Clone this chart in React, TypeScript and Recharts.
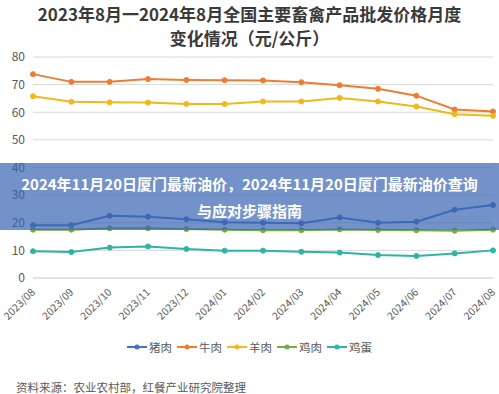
import React from 'react';
import { LineChart, Line, XAxis, YAxis, CartesianGrid } from 'recharts';

const months = [
  '2023/08', '2023/09', '2023/10', '2023/11', '2023/12', '2024/01', '2024/02',
  '2024/03', '2024/04', '2024/05', '2024/06', '2024/07', '2024/08',
];
const pork = [19.1, 19.1, 22.5, 22.2, 21.3, 20.2, 20.0, 19.8, 21.9, 20.0, 20.4, 24.7, 26.4];
const beef = [73.8, 71.0, 71.0, 72.0, 71.7, 71.6, 71.5, 70.9, 69.8, 68.5, 66.0, 61.0, 60.3];
const mutton = [65.8, 63.8, 63.6, 63.5, 63.0, 63.0, 63.9, 63.9, 65.2, 63.9, 62.1, 59.3, 58.7];
const chicken = [17.5, 17.5, 18.0, 18.0, 17.7, 17.5, 17.3, 17.3, 17.6, 17.4, 17.3, 17.1, 17.5];
const egg = [9.7, 9.4, 11.0, 11.4, 10.5, 9.9, 9.9, 9.5, 9.2, 8.3, 8.0, 8.9, 10.0];
const yTicks = [0, 10, 20, 30, 40, 50, 60, 70, 80];

const series = [
  { key: 'pork', name: '猪肉', color: '#4472C4' },
  { key: 'beef', name: '牛肉', color: '#ED7D31' },
  { key: 'mutton', name: '羊肉', color: '#F2B81A' },
  { key: 'chicken', name: '鸡肉', color: '#70AD47' },
  { key: 'egg', name: '鸡蛋', color: '#2CB5A3' },
];

const data = months.map((m, i) => ({
  month: m,
  pork: pork[i],
  beef: beef[i],
  mutton: mutton[i],
  chicken: chicken[i],
  egg: egg[i],
}));

const font = '"Noto Sans CJK SC", "Noto Sans", sans-serif';

function MonthTick(props: any) {
  const { x, y, payload } = props;
  return (
    <g transform={`translate(${x},${y})`}>
      <text
        transform="rotate(-45)"
        textAnchor="end"
        dy={4}
        fontSize={10.5}
        fill="#595959"
        fontFamily={font}
      >
        {payload.value}
      </text>
    </g>
  );
}

export default function App() {
  return (
    <div
      style={{
        position: 'fixed',
        left: 0,
        top: 0,
        width: 499,
        height: 394,
        background: '#fff',
        fontFamily: font,
        overflow: 'hidden',
      }}
    >
      <div
        style={{
          position: 'absolute',
          top: 2,
          left: 0,
          width: 499,
          textAlign: 'center',
          fontSize: 17,
          fontWeight: 'bold',
          lineHeight: '24px',
          color: '#3a3a3a',
        }}
      >
        2023年8月一2024年8月全国主要畜禽产品批发价格月度
        <br />
        变化情况（元/公斤）
      </div>
      <div style={{ position: 'absolute', left: 0, top: 0 }}>
        <LineChart
          width={499}
          height={394}
          data={data}
          margin={{ top: 57, right: 6, bottom: 116 - 40, left: 0 }}
        >
          <CartesianGrid horizontal vertical={false} stroke="#d9d9d9" />
          <XAxis
            dataKey="month"
            height={40}
            axisLine={{ stroke: '#d9d9d9' }}
            tickLine={false}
            interval={0}
            tick={<MonthTick />}
            tickMargin={6}
          />
          <YAxis
            width={33}
            domain={[0, 80]}
            ticks={yTicks}
            axisLine={false}
            tickLine={false}
            tick={{ fontSize: 12, fill: '#595959', fontFamily: font }}
          />
          {series.map((s) => (
            <Line
              key={s.key}
              dataKey={s.key}
              name={s.name}
              stroke={s.color}
              strokeWidth={2}
              dot={{ r: 2.5, fill: s.color, stroke: s.color, strokeWidth: 1 }}
              isAnimationActive={false}
            />
          ))}
        </LineChart>
      </div>
      <div
        style={{
          position: 'absolute',
          top: 339,
          left: 0,
          width: 499,
          display: 'flex',
          justifyContent: 'center',
          gap: 5,
          fontSize: 11.5,
          color: '#595959',
        }}
      >
        {series.map((s) => (
          <div key={s.key} style={{ display: 'flex', alignItems: 'center', gap: 2 }}>
            <svg width={20} height={8}>
              <line x1={0} y1={4} x2={20} y2={4} stroke={s.color} strokeWidth={2} />
              <circle cx={10} cy={4} r={2.5} fill={s.color} />
            </svg>
            <span>{s.name}</span>
          </div>
        ))}
      </div>
      <div
        style={{
          position: 'absolute',
          top: 379,
          left: 16,
          fontSize: 11.5,
          color: '#595959',
        }}
      >
        资料来源：农业农村部，红餐产业研究院整理
      </div>
      <div
        style={{
          position: 'absolute',
          top: 163,
          left: 0,
          width: 499,
          height: 67,
          background: 'rgba(56,100,178,0.7)',
          color: '#fff',
          fontSize: 15,
          fontWeight: 'bold',
          textAlign: 'center',
          lineHeight: '27px',
          paddingTop: 7,
          boxSizing: 'border-box',
        }}
      >
        2024年11月20日厦门最新油价，2024年11月20日厦门最新油价查询
        <br />
        与应对步骤指南
      </div>
    </div>
  );
}
